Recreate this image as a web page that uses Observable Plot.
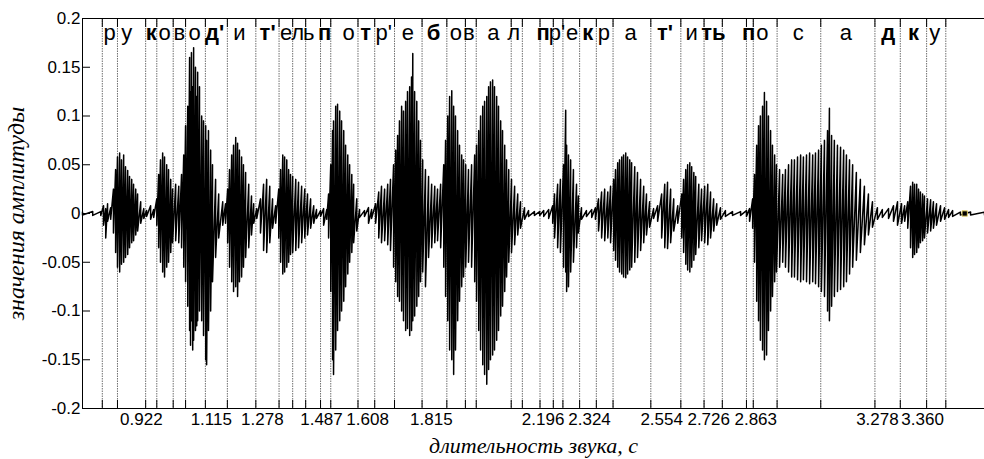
<!DOCTYPE html>
<html><head><meta charset="utf-8">
<script src="https://cdn.jsdelivr.net/npm/d3@7"></script>
<script src="https://cdn.jsdelivr.net/npm/@observablehq/plot@0.6"></script>
<style>
html,body{margin:0;padding:0;background:#fff;overflow:hidden}
#chart [aria-label="x-axis label"] text{font-family:"Liberation Serif","Times New Roman",serif;font-style:italic;font-size:22px}
#chart [aria-label="y-axis label"] text{font-family:"Liberation Serif","Times New Roman",serif;font-style:italic;font-size:24px}
#chart [aria-label="y-axis tick label"] text{font-size:17px}
</style></head><body><div id="chart"></div>
<script>
// ---- data ----
const xDomain = [0.718, 3.632];
const yTicks = [-0.2, -0.15, -0.1, -0.05, 0, 0.05, 0.1, 0.15, 0.2];
const boundaries = [0.782, 0.831, 0.922, 0.958, 1.011, 1.051, 1.115, 1.186, 1.278, 1.353, 1.397, 1.439, 1.487, 1.520, 1.608, 1.662, 1.726, 1.815, 1.895, 1.955, 1.990, 2.103, 2.139, 2.196, 2.239, 2.270, 2.324, 2.378, 2.432, 2.554, 2.651, 2.726, 2.785, 2.863, 2.885, 2.962, 3.103, 3.278, 3.360, 3.445, 3.507];
const tickLabels = ["0.922", "1.115", "1.278", "1.487", "1.608", "1.815", "2.196", "2.324", "2.554", "2.726", "2.863", "3.278", "3.360"];
const tickLabelT = [0.908, 1.134, 1.299, 1.490, 1.639, 1.845, 2.206, 2.356, 2.589, 2.741, 2.893, 3.286, 3.432];
const phonemes = ["р","у","к","о","в","о","д'","и","т'","е","л","ь","п","о","т","р'","е","б","о","в","а","л","п","р'","е","к","р","а","т'","и","ть","п","о","с","а","д","к","у"];
const phonemeT = [0.806, 0.861, 0.940, 0.983, 1.031, 1.080, 1.145, 1.225, 1.316, 1.376, 1.413, 1.449, 1.500, 1.578, 1.633, 1.691, 1.769, 1.852, 1.924, 1.966, 2.045, 2.111, 2.206, 2.251, 2.300, 2.350, 2.402, 2.489, 2.600, 2.686, 2.756, 2.870, 2.914, 3.030, 3.184, 3.321, 3.403, 3.471];
const phonemeBold = [0,0,1,0,0,0,1,0,1,0,0,0,1,0,1,0,0,1,0,0,0,0,1,0,0,1,0,0,1,0,1,1,0,0,0,1,1,0];
const waveT = [0.718,0.751,0.777,0.786,0.793,0.799,0.809,0.818,0.825,0.831,0.838,0.844,0.851,0.857,0.864,0.870,0.877,0.883,0.890,0.896,0.906,0.916,0.925,0.938,0.948,0.958,0.964,0.970,0.977,0.983,0.990,0.996,1.003,1.009,1.019,1.029,1.038,1.045,1.051,1.058,1.064,1.067,1.070,1.074,1.077,1.083,1.087,1.090,1.096,1.103,1.109,1.116,1.119,1.125,1.132,1.138,1.148,1.158,1.171,1.180,1.187,1.193,1.200,1.206,1.213,1.219,1.225,1.232,1.238,1.245,1.255,1.264,1.271,1.281,1.293,1.303,1.313,1.323,1.332,1.342,1.352,1.358,1.365,1.371,1.378,1.384,1.390,1.397,1.407,1.416,1.426,1.436,1.445,1.455,1.465,1.474,1.487,1.497,1.507,1.513,1.520,1.526,1.529,1.536,1.542,1.549,1.555,1.562,1.568,1.575,1.581,1.588,1.594,1.604,1.613,1.629,1.642,1.652,1.665,1.675,1.684,1.694,1.704,1.713,1.723,1.730,1.736,1.742,1.749,1.755,1.762,1.768,1.775,1.781,1.785,1.791,1.798,1.804,1.810,1.817,1.826,1.836,1.846,1.856,1.865,1.875,1.885,1.891,1.898,1.904,1.911,1.917,1.923,1.930,1.936,1.943,1.949,1.956,1.965,1.975,1.985,1.991,1.998,2.004,2.011,2.017,2.024,2.030,2.036,2.043,2.049,2.056,2.062,2.069,2.075,2.082,2.088,2.095,2.104,2.114,2.124,2.133,2.146,2.159,2.178,2.195,2.208,2.224,2.237,2.243,2.253,2.262,2.272,2.279,2.282,2.288,2.295,2.304,2.314,2.320,2.330,2.346,2.363,2.375,2.385,2.395,2.405,2.415,2.424,2.434,2.440,2.447,2.453,2.460,2.466,2.473,2.479,2.486,2.492,2.502,2.511,2.521,2.531,2.540,2.550,2.563,2.576,2.589,2.599,2.608,2.618,2.628,2.641,2.654,2.660,2.667,2.673,2.680,2.686,2.693,2.699,2.709,2.718,2.728,2.738,2.747,2.757,2.767,2.779,2.795,2.818,2.844,2.863,2.873,2.883,2.889,2.896,2.902,2.908,2.915,2.921,2.928,2.934,2.941,2.947,2.954,2.960,2.970,2.980,2.989,2.999,3.009,3.018,3.028,3.038,3.047,3.057,3.067,3.077,3.086,3.096,3.105,3.115,3.125,3.131,3.138,3.147,3.157,3.167,3.177,3.186,3.196,3.206,3.218,3.231,3.244,3.257,3.270,3.286,3.302,3.322,3.338,3.351,3.364,3.374,3.384,3.393,3.400,3.406,3.413,3.419,3.425,3.432,3.438,3.448,3.458,3.467,3.477,3.490,3.503,3.516,3.529,3.554,3.587,3.632];
const waveHi = [0.0015,0.002,0.002,0.008,0.005,0.010,0.006,0.025,0.045,0.058,0.062,0.055,0.060,0.048,0.044,0.038,0.035,0.030,0.025,0.020,0.012,0.005,0.003,0.008,0.004,0.015,0.040,0.055,0.062,0.058,0.050,0.045,0.035,0.025,0.030,0.028,0.040,0.060,0.090,0.110,0.160,0.125,0.165,0.130,0.170,0.150,0.120,0.145,0.130,0.100,0.095,0.090,0.075,0.085,0.065,0.050,0.035,0.020,0.012,0.010,0.025,0.045,0.060,0.070,0.078,0.072,0.065,0.058,0.050,0.042,0.030,0.018,0.010,0.005,0.015,0.030,0.035,0.028,0.015,0.008,0.025,0.045,0.060,0.058,0.055,0.045,0.040,0.038,0.035,0.032,0.028,0.025,0.020,0.015,0.008,0.004,0.003,0.005,0.004,0.020,0.050,0.085,0.095,0.110,0.112,0.105,0.095,0.085,0.070,0.060,0.050,0.040,0.030,0.015,0.004,0.003,0.006,0.004,0.010,0.022,0.028,0.025,0.030,0.035,0.050,0.065,0.080,0.095,0.110,0.105,0.115,0.125,0.130,0.140,0.164,0.125,0.115,0.095,0.075,0.055,0.045,0.038,0.030,0.028,0.025,0.030,0.050,0.075,0.100,0.120,0.126,0.110,0.100,0.085,0.070,0.060,0.055,0.050,0.045,0.050,0.060,0.070,0.085,0.100,0.110,0.115,0.120,0.130,0.135,0.137,0.130,0.120,0.110,0.095,0.085,0.070,0.055,0.045,0.035,0.028,0.020,0.012,0.006,0.003,0.002,0.002,0.003,0.004,0.008,0.020,0.030,0.035,0.050,0.106,0.070,0.060,0.055,0.045,0.030,0.018,0.006,0.003,0.004,0.006,0.015,0.022,0.025,0.022,0.028,0.035,0.045,0.052,0.055,0.058,0.060,0.062,0.058,0.055,0.052,0.048,0.042,0.035,0.028,0.020,0.012,0.005,0.008,0.020,0.030,0.032,0.025,0.015,0.008,0.020,0.035,0.045,0.050,0.052,0.048,0.042,0.038,0.030,0.025,0.028,0.030,0.022,0.015,0.010,0.006,0.003,0.002,0.002,0.003,0.005,0.015,0.040,0.070,0.090,0.100,0.110,0.124,0.115,0.100,0.085,0.070,0.060,0.050,0.045,0.040,0.045,0.050,0.055,0.055,0.058,0.060,0.058,0.060,0.062,0.060,0.062,0.065,0.070,0.075,0.085,0.108,0.080,0.075,0.070,0.068,0.065,0.060,0.055,0.050,0.042,0.035,0.028,0.020,0.012,0.006,0.004,0.005,0.008,0.012,0.010,0.008,0.012,0.028,0.032,0.030,0.030,0.025,0.022,0.020,0.018,0.015,0.014,0.012,0.010,0.008,0.006,0.004,0.003,0.0015,0.0015,0.0015];
const waveLo = [-0.0015,-0.002,-0.002,-0.012,-0.025,-0.008,-0.006,-0.020,-0.040,-0.055,-0.060,-0.052,-0.050,-0.045,-0.042,-0.035,-0.030,-0.028,-0.022,-0.018,-0.010,-0.005,-0.003,-0.006,-0.004,-0.012,-0.035,-0.050,-0.060,-0.065,-0.055,-0.050,-0.040,-0.030,-0.028,-0.030,-0.035,-0.055,-0.070,-0.095,-0.120,-0.135,-0.110,-0.140,-0.130,-0.120,-0.115,-0.110,-0.100,-0.110,-0.125,-0.150,-0.155,-0.120,-0.100,-0.070,-0.045,-0.025,-0.012,-0.010,-0.030,-0.055,-0.070,-0.080,-0.075,-0.085,-0.070,-0.065,-0.055,-0.045,-0.035,-0.022,-0.010,-0.005,-0.020,-0.038,-0.040,-0.030,-0.015,-0.010,-0.025,-0.050,-0.062,-0.060,-0.055,-0.050,-0.042,-0.040,-0.038,-0.035,-0.030,-0.025,-0.022,-0.015,-0.010,-0.005,-0.003,-0.012,-0.006,-0.025,-0.080,-0.150,-0.165,-0.140,-0.120,-0.110,-0.100,-0.090,-0.075,-0.062,-0.050,-0.040,-0.030,-0.018,-0.004,-0.003,-0.010,-0.005,-0.010,-0.025,-0.030,-0.028,-0.032,-0.038,-0.055,-0.070,-0.085,-0.090,-0.100,-0.110,-0.120,-0.118,-0.125,-0.120,-0.110,-0.105,-0.095,-0.085,-0.070,-0.060,-0.075,-0.045,-0.035,-0.030,-0.028,-0.035,-0.055,-0.085,-0.110,-0.140,-0.150,-0.165,-0.140,-0.110,-0.090,-0.075,-0.065,-0.055,-0.050,-0.055,-0.070,-0.090,-0.120,-0.140,-0.155,-0.165,-0.175,-0.160,-0.150,-0.145,-0.140,-0.130,-0.120,-0.105,-0.095,-0.080,-0.065,-0.050,-0.040,-0.032,-0.022,-0.015,-0.006,-0.003,-0.002,-0.002,-0.003,-0.005,-0.010,-0.025,-0.035,-0.040,-0.055,-0.060,-0.080,-0.075,-0.060,-0.050,-0.035,-0.020,-0.006,-0.003,-0.004,-0.006,-0.018,-0.025,-0.028,-0.025,-0.030,-0.038,-0.048,-0.055,-0.060,-0.062,-0.065,-0.066,-0.062,-0.058,-0.055,-0.050,-0.045,-0.038,-0.030,-0.022,-0.014,-0.005,-0.008,-0.025,-0.035,-0.036,-0.030,-0.018,-0.010,-0.025,-0.040,-0.052,-0.058,-0.060,-0.055,-0.048,-0.042,-0.035,-0.028,-0.030,-0.032,-0.025,-0.018,-0.012,-0.006,-0.003,-0.002,-0.002,-0.003,-0.008,-0.015,-0.050,-0.090,-0.110,-0.130,-0.140,-0.150,-0.145,-0.120,-0.100,-0.085,-0.070,-0.060,-0.055,-0.050,-0.055,-0.060,-0.065,-0.065,-0.068,-0.070,-0.068,-0.070,-0.072,-0.070,-0.072,-0.075,-0.080,-0.085,-0.100,-0.110,-0.095,-0.085,-0.080,-0.078,-0.075,-0.070,-0.062,-0.055,-0.048,-0.040,-0.032,-0.022,-0.014,-0.006,-0.004,-0.005,-0.008,-0.012,-0.010,-0.008,-0.015,-0.035,-0.045,-0.042,-0.040,-0.035,-0.030,-0.028,-0.025,-0.020,-0.018,-0.015,-0.012,-0.008,-0.006,-0.004,-0.003,-0.0015,-0.0015,-0.0015];
const markerT = [3.568];
const markerV = [0];

// ---- tables built from the arrays ----
// waveform drawn as a zig-zag trace: each reading goes from its top to its bottom value
const trace = waveT.flatMap((t, i) => [{t, v: waveHi[i]}, {t, v: waveLo[i]}]);
const phon = phonemes.map((s, i) => ({s, t: phonemeT[i], bold: phonemeBold[i] === 1}));
const xlab = tickLabels.map((s, i) => ({s, t: tickLabelT[i]}));
const markers = markerT.map((t, i) => ({t, v: markerV[i]}));

const chart = Plot.plot({
  width: 984, height: 459,
  marginLeft: 82, marginRight: 0, marginTop: 18, marginBottom: 51,
  style: {fontFamily: "'Liberation Sans', Arial, sans-serif", fontSize: "16px", background: "#fff", color: "#000", overflow: "visible"},
  x: {domain: xDomain, label: null},
  y: {domain: [yTicks[0], yTicks[yTicks.length - 1]], label: null},
  marks: [
    Plot.ruleX(boundaries, {stroke: "#707070", strokeWidth: 1, strokeDasharray: "1.5,1"}),
    Plot.line(trace, {x: "t", y: "v", stroke: "#000", strokeWidth: 1.5, curve: "linear"}),
    Plot.dot(markers, {x: "t", y: "v", symbol: "square", r: 3, fill: "#000", stroke: "#e3cf66", strokeWidth: 1}),
    Plot.ruleY([yTicks[0], yTicks[yTicks.length - 1]], {stroke: "#000", strokeWidth: 1}),
    Plot.ruleX([xDomain[0]], {stroke: "#000", strokeWidth: 1}),
    Plot.axisX(boundaries, {anchor: "bottom", tickSize: -8, tickFormat: () => "", label: "длительность звука, с", labelAnchor: "center", labelOffset: 44, labelArrow: "none"}),
    Plot.axisX(boundaries, {anchor: "top", tickSize: -8, tickFormat: () => "", label: null}),
    Plot.text(xlab, {x: "t", text: "s", frameAnchor: "bottom", lineAnchor: "top", dy: 4, fontSize: 17, fill: "#000"}),
    Plot.axisY(yTicks, {anchor: "left", tickSize: -8, tickFormat: () => "", label: null}),
    Plot.axisY(yTicks, {anchor: "left", tickSize: 0, tickPadding: 2, tickFormat: d => String(d), label: "значения амплитуды", labelAnchor: "center", labelOffset: 76, labelArrow: "none"}),
    Plot.text(phon.filter(d => !d.bold), {x: "t", text: "s", frameAnchor: "top", lineAnchor: "bottom", dy: 21, fontSize: 22, fill: "#000"}),
    Plot.text(phon.filter(d => d.bold), {x: "t", text: "s", frameAnchor: "top", lineAnchor: "bottom", dy: 21, fontSize: 22, fontWeight: "bold", fill: "#000"})
  ]
});
document.getElementById("chart").appendChild(chart);
</script>
</body></html>
